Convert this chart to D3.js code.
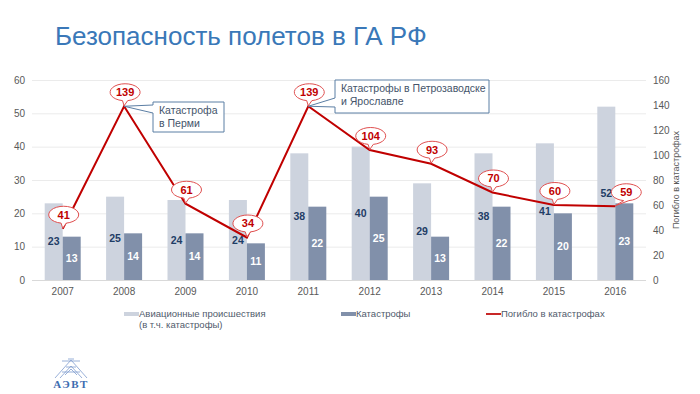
<!DOCTYPE html>
<html>
<head>
<meta charset="utf-8">
<script src="https://cdn.jsdelivr.net/npm/d3@7"></script>
<style>
  body { margin: 0; background: #fff; }
  svg { font-family: "Liberation Sans", Arial, sans-serif; }
</style>
</head>
<body>
<div id="chart"></div>
<script>
// data
var years = ["2007", "2008", "2009", "2010", "2011", "2012", "2013", "2014", "2015", "2016"];
var incidents = [23, 25, 24, 24, 38, 40, 29, 38, 41, 52];   // авиационные происшествия
var crashes = [13, 14, 14, 11, 22, 25, 13, 22, 20, 23];     // катастрофы
var deaths = [41, 139, 61, 34, 139, 104, 93, 70, 60, 59];   // погибло
var leftTicks = [0, 10, 20, 30, 40, 50, 60];
var rightTicks = [0, 20, 40, 60, 80, 100, 120, 140, 160];

var W = 700, H = 394;
var margin = {top: 80, right: 54, bottom: 114, left: 32};
var w = W - margin.left - margin.right,
    h = H - margin.top - margin.bottom;

var svg = d3.select("#chart").append("svg")
    .attr("width", W)
    .attr("height", H);

// title
svg.append("text")
    .attr("x", 55).attr("y", 45)
    .style("font-size", "26px")
    .style("fill", "#3a78b8")
    .text("Безопасность полетов в ГА РФ");

var g = svg.append("g")
    .attr("transform", "translate(" + margin.left + "," + margin.top + ")");

var x = d3.scaleBand().domain(years).range([0, w]);
var y = d3.scaleLinear().domain([0, 60]).range([h, 0]);
var y2 = d3.scaleLinear().domain([0, 160]).range([h, 0]);
var barW = 18;

// grid
g.selectAll("line.grid")
    .data(leftTicks)
    .enter().append("line")
    .attr("class", "grid")
    .attr("x1", 0).attr("x2", w)
    .attr("y1", function(d) { return y(d) + 0.5; })
    .attr("y2", function(d) { return y(d) + 0.5; })
    .attr("stroke", function(d) { return d == 0 ? "#d9d9d9" : "#ebebeb"; })
    .attr("stroke-width", 1);

// axes (text only)
var axL = g.append("g").call(d3.axisLeft(y).tickValues(leftTicks).tickSize(0).tickPadding(7));
var axR = g.append("g").attr("transform", "translate(" + w + ",0)")
    .call(d3.axisRight(y2).tickValues(rightTicks).tickSize(0).tickPadding(7));
var axB = g.append("g").attr("transform", "translate(0," + h + ")")
    .call(d3.axisBottom(x).tickSize(0).tickPadding(8));
[axL, axR, axB].forEach(function(a) {
    a.select(".domain").remove();
    a.selectAll("text").style("font-size", "10px").style("fill", "#595959")
        .style("font-family", "'Liberation Sans', Arial, sans-serif");
});

// right axis title
g.append("text")
    .attr("transform", "translate(" + (w + 33) + "," + (h / 2) + ") rotate(-90)")
    .style("text-anchor", "middle")
    .style("font-size", "9px")
    .style("fill", "#595959")
    .text("Погибло в катастрофах");

// bars
function cx(i) { return x(years[i]) + x.bandwidth() / 2; }

g.selectAll("rect.inc")
    .data(incidents)
    .enter().append("rect")
    .attr("class", "inc")
    .attr("x", function(d, i) { return cx(i) - barW; })
    .attr("y", function(d) { return y(d); })
    .attr("width", barW)
    .attr("height", function(d) { return h - y(d); })
    .style("fill", "#cdd3de");

g.selectAll("rect.cr")
    .data(crashes)
    .enter().append("rect")
    .attr("class", "cr")
    .attr("x", function(d, i) { return cx(i); })
    .attr("y", function(d) { return y(d); })
    .attr("width", barW)
    .attr("height", function(d) { return h - y(d); })
    .style("fill", "#8190aa");

g.selectAll("text.inc")
    .data(incidents)
    .enter().append("text")
    .attr("x", function(d, i) { return cx(i) - barW / 2; })
    .attr("y", function(d) { return y(d / 2); })
    .attr("dy", "0.35em")
    .style("text-anchor", "middle")
    .style("font-size", "10.5px")
    .style("font-weight", "bold")
    .style("fill", "#1f3d66")
    .text(function(d) { return d; });

g.selectAll("text.cr")
    .data(crashes)
    .enter().append("text")
    .attr("x", function(d, i) { return cx(i) + barW / 2; })
    .attr("y", function(d) { return y(d / 2); })
    .attr("dy", "0.35em")
    .style("text-anchor", "middle")
    .style("font-size", "10.5px")
    .style("font-weight", "bold")
    .style("fill", "#ffffff")
    .text(function(d) { return d; });

// line
g.append("path")
    .datum(deaths)
    .attr("d", d3.line()
        .x(function(d, i) { return cx(i); })
        .y(function(d) { return y2(d); }))
    .attr("fill", "none")
    .attr("stroke", "#c00000")
    .attr("stroke-width", 2);

// callout boxes
function callout(px, py, x0, y0, bw, bh, t1, t2, tTop, tBot) {
    var p = "M" + x0 + "," + y0 + "H" + (x0 + bw) + "V" + (y0 + bh) + "H" + x0 +
        "V" + (y0 + tBot) + "L" + px + "," + py + "L" + x0 + "," + (y0 + tTop) + "Z";
    g.append("path").attr("d", p)
        .attr("fill", "#fff").attr("stroke", "#5b7ea4").attr("stroke-width", 1);
    [t1, t2].forEach(function(t, k) {
        g.append("text")
            .attr("x", x0 + 6).attr("y", y0 + 12 + k * 13)
            .style("font-size", "10.5px").style("fill", "#44546a")
            .text(t);
    });
}
callout(cx(1), y2(deaths[1]), 153 - margin.left, 102 - margin.top, 71, 30,
    "Катастрофа", "в Перми", 3, 11);
callout(cx(4), y2(deaths[4]), 335 - margin.left, 80 - margin.top, 154, 33,
    "Катастрофы в Петрозаводске", "и Ярославле", 18, 27);

// value bubbles
var rx = 15, ry = 8.5, tail = 5.5;
deaths.forEach(function(d, i) {
    var px = cx(i), py = y2(d);
    var bx = px + (i == deaths.length - 1 ? 11 : 1);
    var by = py - ry - tail;
    var a1 = 100 * Math.PI / 180, a2 = 80 * Math.PI / 180;
    var path = "M" + (bx + rx * Math.cos(a1)) + "," + (by + ry * Math.sin(a1)) +
        "A" + rx + "," + ry + " 0 1 1 " + (bx + rx * Math.cos(a2)) + "," + (by + ry * Math.sin(a2)) +
        "L" + px + "," + (py - 0.5) + "Z";
    g.append("path").attr("d", path)
        .attr("fill", "#fff").attr("stroke", "#e05050").attr("stroke-width", 1);
    g.append("text")
        .attr("x", bx).attr("y", by)
        .attr("dy", "0.36em")
        .style("text-anchor", "middle")
        .style("font-size", "11px")
        .style("font-weight", "bold")
        .style("fill", "#c00000")
        .text(d);
});

// legend
var leg = svg.append("g").style("font-size", "9.5px").style("fill", "#505a6b");
leg.append("rect").attr("x", 124).attr("y", 312).attr("width", 15).attr("height", 4).style("fill", "#cdd3de");
leg.append("text").attr("x", 139).attr("y", 317).text("Авиационные происшествия");
leg.append("text").attr("x", 139).attr("y", 328).text("(в т.ч. катастрофы)");
leg.append("rect").attr("x", 341).attr("y", 312).attr("width", 15).attr("height", 4).style("fill", "#8190aa");
leg.append("text").attr("x", 356).attr("y", 317).text("Катастрофы");
leg.append("line").attr("x1", 486).attr("x2", 501).attr("y1", 314).attr("y2", 314)
    .attr("stroke", "#c82828").attr("stroke-width", 2);
leg.append("text").attr("x", 501).attr("y", 317).text("Погибло в катастрофах");

// logo
var logo = svg.append("g").attr("stroke", "#7f9cce").attr("stroke-width", 0.8).attr("fill", "none");
logo.append("path").attr("d",
    "M55,378 L71,360 L87,378 M60,378 L71,366 L82,378 M62,372 L80,372 M66,367 L76,367 " +
    "M62,361 L80,361 M65,375 L71,369 L77,375 M68,359 L74,359");
svg.append("text")
    .attr("x", 71).attr("y", 388)
    .style("text-anchor", "middle")
    .style("font-family", "'Liberation Serif', 'Times New Roman', serif")
    .style("font-weight", "bold")
    .style("font-size", "11px")
    .style("letter-spacing", "1.5px")
    .style("fill", "#3d6cb0")
    .text("АЭВТ");
</script>
</body>
</html>
